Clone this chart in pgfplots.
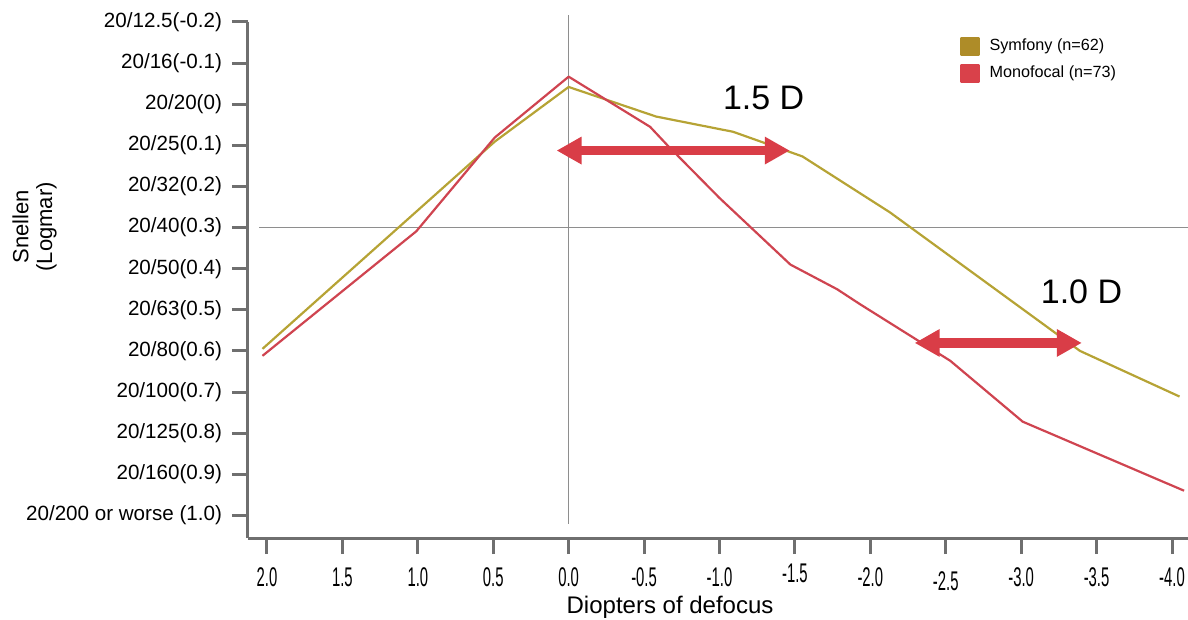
\documentclass[border=0pt]{standalone}
\usepackage{fontspec}
\setmainfont{Liberation Sans}
\usepackage{graphicx}
\usepackage{pgfplots}
\usepackage{pgfplotstable}
\pgfplotsset{compat=1.18}
\usetikzlibrary{arrows.meta}

\definecolor{symline}{HTML}{B6A335}
\definecolor{symleg}{HTML}{AE8C28}
\definecolor{monoline}{HTML}{CF4450}
\definecolor{monoleg}{HTML}{D9414A}
\definecolor{arrowred}{HTML}{D93D47}
\definecolor{axisgray}{HTML}{6F6F6F}
\definecolor{gridgray}{HTML}{8E8E8E}
\newcommand{\cx}[1]{\scalebox{0.55}[1]{#1}}

\pgfplotstableread{
x y
2.03 0.595
0.49 0.091
0.00 -0.042
-0.58 0.030
-1.09 0.067
-1.55 0.127
-2.13 0.263
-3.39 0.600
-4.05 0.711
}\symfony

\pgfplotstableread{
x y
2.03 0.612
1.01 0.309
0.49 0.081
0.00 -0.067
-0.54 0.055
-0.65 0.098
-1.00 0.228
-1.47 0.390
-1.78 0.450
-1.93 0.486
-2.53 0.624
-3.01 0.772
-4.08 0.940
}\monofocal

\begin{document}
\begin{tikzpicture}
\path[use as bounding box] (0,0) rectangle (594pt,310pt);
\begin{axis}[
  at={(124pt,41pt)}, anchor=south west,
  width=470pt, height=258pt, scale only axis,
  x dir=reverse, y dir=reverse,
  xmin=-4.106, xmax=2.126, ymin=-0.2, ymax=1.055,
  axis x line=bottom, axis y line=left,
  axis line style={draw=axisgray, line width=1.5pt, -},
  tick align=outside, major tick length=8pt,
  tick style={draw=axisgray, line width=1.5pt},
  xtick={2,1.5,1,0.5,0,-0.5,-1,-1.5,-2,-2.5,-3,-3.5,-4},
  xticklabels={\cx{2.0},\cx{1.5},\cx{1.0},\cx{0.5},\cx{0.0},\cx{-0.5},\cx{-1.0},\raisebox{2pt}{\cx{-1.5}},\cx{-2.0},\raisebox{-2pt}{\cx{-2.5}},\cx{-3.0},\cx{-3.5},\cx{-4.0}},
  ytick={-0.2,-0.1,0,0.1,0.2,0.3,0.4,0.5,0.6,0.7,0.8,0.9,1.0},
  yticklabels={20/12.5(-0.2),20/16(-0.1),20/20(0),20/25(0.1),20/32(0.2),20/40(0.3),20/50(0.4),20/63(0.5),20/80(0.6),20/100(0.7),20/125(0.8),20/160(0.9),20/200 or worse (1.0)},
  yticklabel style={font=\fontsize{10.3}{12}\selectfont, xshift=-1.5pt},
  xticklabel style={font=\fontsize{13.5}{15}\selectfont, anchor=base, yshift=-16.3pt},
  xlabel={Diopters of defocus},
  xlabel style={at={(axis description cs:0.449,-0.134)}, anchor=center, font=\fontsize{12}{14}\selectfont},
  ylabel={Snellen\\(Logmar)},
  ylabel style={at={(axis description cs:-0.227,0.603)}, anchor=center, align=center, font=\fontsize{11}{11.8}\selectfont},
  clip=false,
  legend style={at={(axis description cs:0.7574,0.972)}, anchor=north west, draw=none, fill=none, inner sep=0pt,
    font=\fontsize{8.1}{10}\selectfont, row sep=4pt,
    nodes={inner sep=0pt, text height=6pt, text depth=2pt},
    /tikz/every odd column/.append style={column sep=5pt}},
  legend cell align=left,
]
\draw[gridgray, line width=0.75pt] (axis cs:0,-0.217) -- (axis cs:0,1.02);
\draw[gridgray, line width=0.75pt] (axis cs:2.05,0.3) -- (axis cs:-4.106,0.3);

\addplot[symline, line width=1.1pt, line join=round,
  legend image code/.code={\fill[symleg] (0pt,-4.25pt) rectangle (8.5pt,4.25pt);}] table {\symfony};
\addlegendentry{Symfony (n=62)}
\addplot[monoline, line width=1.1pt, line join=round,
  legend image code/.code={\fill[monoleg] (0pt,-4.25pt) rectangle (8.5pt,4.25pt);}] table {\monofocal};
\addlegendentry{Monofocal (n=73)}

\draw[arrowred, line width=4.8pt, {Triangle[length=12.5pt,width=13pt]}-{Triangle[length=12.5pt,width=13pt]}]
  (axis cs:0.08,0.1127) -- (axis cs:-1.466,0.1127);
\draw[arrowred, line width=4.8pt, {Triangle[length=12.5pt,width=13pt]}-{Triangle[length=12.5pt,width=13pt]}]
  (axis cs:-2.294,0.5806) -- (axis cs:-3.402,0.5806);

\node[font=\fontsize{17}{20}\selectfont] at (axis cs:-1.293,-0.016) {1.5 D};
\node[font=\fontsize{17}{20}\selectfont] at (axis cs:-3.40,0.455) {1.0 D};
\end{axis}
\end{tikzpicture}
\end{document}
